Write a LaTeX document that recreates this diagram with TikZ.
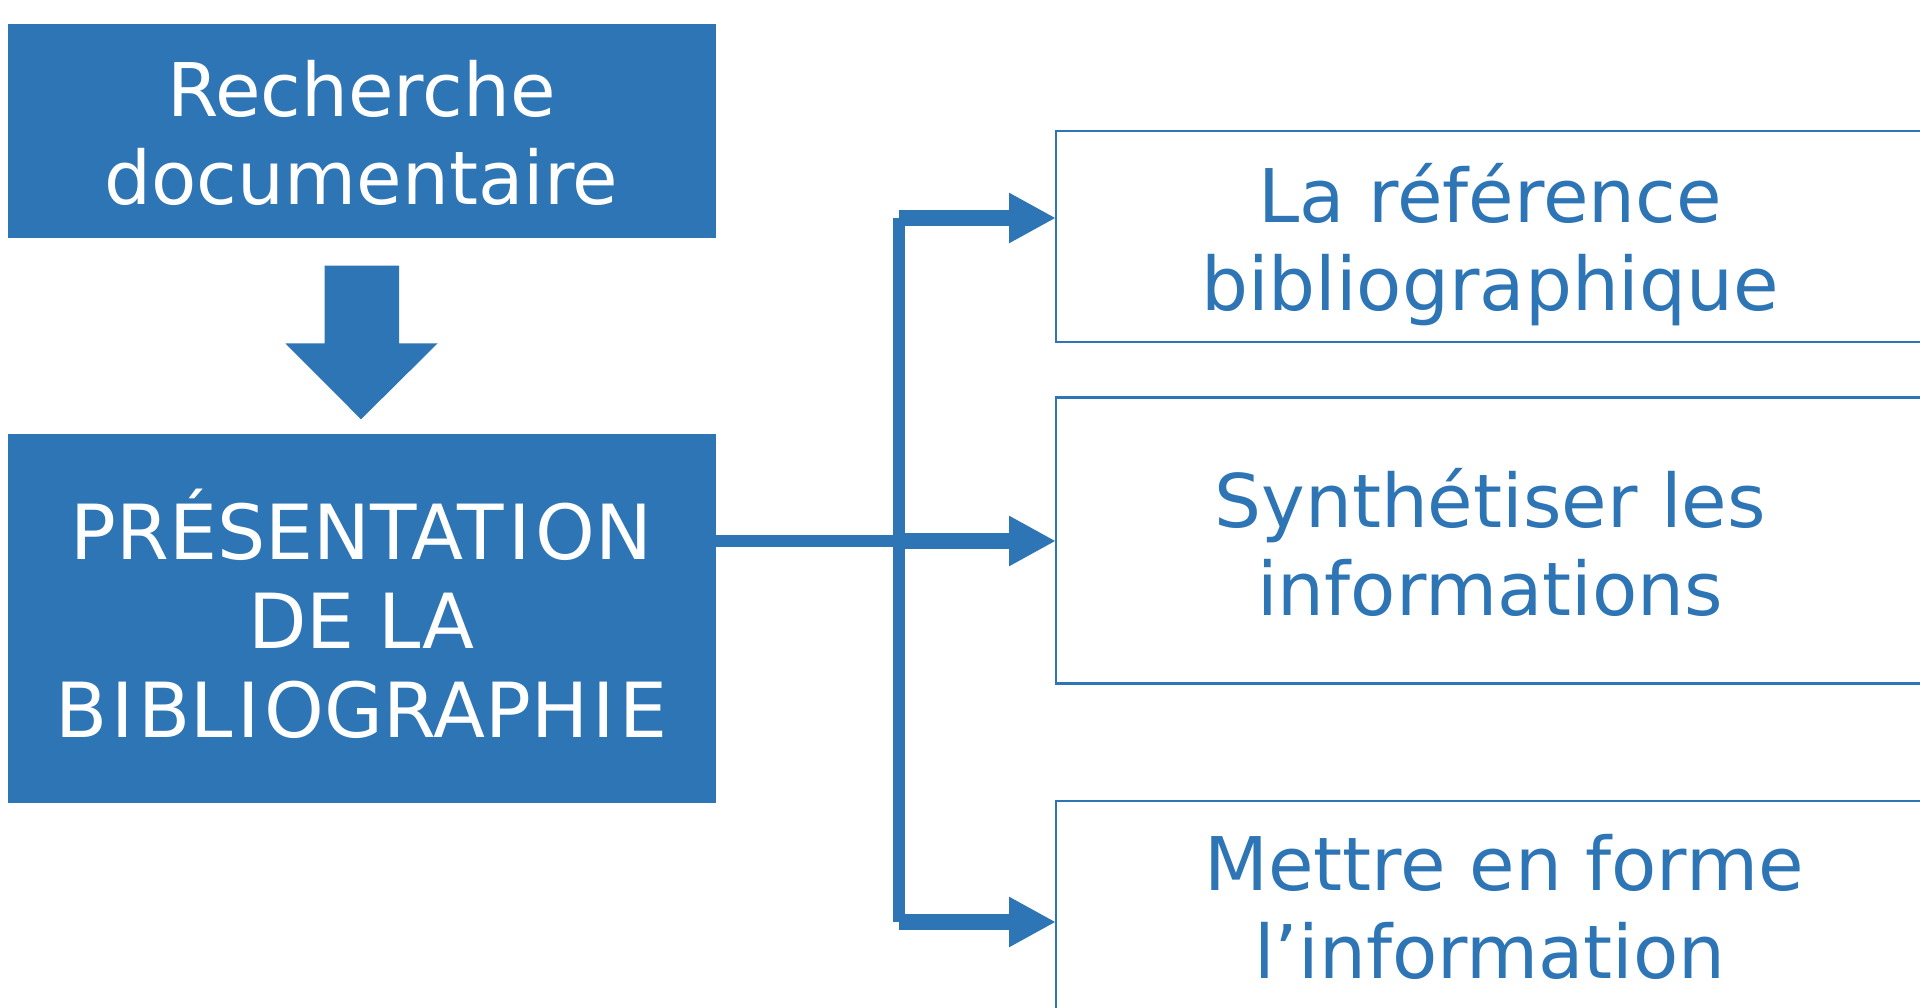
\documentclass[tikz,border=0pt]{standalone}
\usepackage{fontspec}
\setmainfont{DejaVu Sans}
\usetikzlibrary{arrows.meta}
\definecolor{ublue}{HTML}{2E75B6}
\newcommand\capI{\kern4.6pt I\kern4.6pt}
\begin{document}
\begin{tikzpicture}[x=1pt,y=-1pt,
  solidbox/.style={fill=ublue, draw=ublue, line width=1pt, inner sep=0pt, outer sep=0pt, anchor=north west},
  openbox/.style={fill=white, draw=ublue, line width=2.5pt, inner sep=0pt, outer sep=0pt, anchor=north west},
  bigtext/.style={font=\fontsize{74}{88}\selectfont, align=center, inner sep=0pt},
  captext/.style={font=\fontsize{76}{89}\selectfont, align=center, inner sep=0pt},
  conn/.style={draw=ublue, line width=11.5pt},
  arr/.style={draw=ublue, line width=16pt, -{Triangle[length=47pt,width=47pt]}}]
\useasboundingbox (0,0) rectangle (1920,1008);
\clip (0,0) rectangle (1920,1008);
% left boxes
\node[solidbox, minimum width=706.5pt, minimum height=213.5pt] (b1) at (8.5,24.5) {};
\node[solidbox, minimum width=706.5pt, minimum height=368.5pt] (b2) at (8.5,434) {};
\node[bigtext, text=white] (t1) at (361.5,132.5) {Recherche\\documentaire};
\node[captext, text=white] (t2) at (361.5,614) {PRÉSENTAT\capI ON\\DE LA\\B\capI BL\capI OGRAPH\capI E};
% down block arrow
\fill[ublue] (324.5,265.7) -- (399,265.7) -- (399,343.5) -- (437.5,343.5) -- (361,419.3) -- (285.5,343.5) -- (324.5,343.5) -- cycle;
% right boxes
\node[openbox, minimum width=868.5pt, minimum height=211pt] (bA) at (1056,131) {};
\node[openbox, minimum width=868.5pt, minimum height=286pt] (bB) at (1056,397.5) {};
\node[openbox, minimum width=868.5pt, minimum height=208pt] (bC) at (1056,801) {};
\node[bigtext, text=ublue] (tA) at (1490,245) {La référence\\bibliographique};
\node[bigtext, text=ublue] (tB) at (1490,542) {Synthétiser les\\informations};
\node[bigtext, text=ublue] (tC) at (1490,907) {\hspace*{28pt}Mettre en forme\\l’information};
% connectors
\coordinate (jt) at (899,218);
\coordinate (jm) at (899,541);
\coordinate (jb) at (899,922);
\draw[conn] (b2.east |- jm) -- (jm);
\draw[conn] (jt) -- (jb);
\draw[arr] (jt) -- (jt -| bA.west);
\draw[arr] (jm) -- (jm -| bB.west);
\draw[arr] (jb) -- (jb -| bC.west);
\end{tikzpicture}
\end{document}
